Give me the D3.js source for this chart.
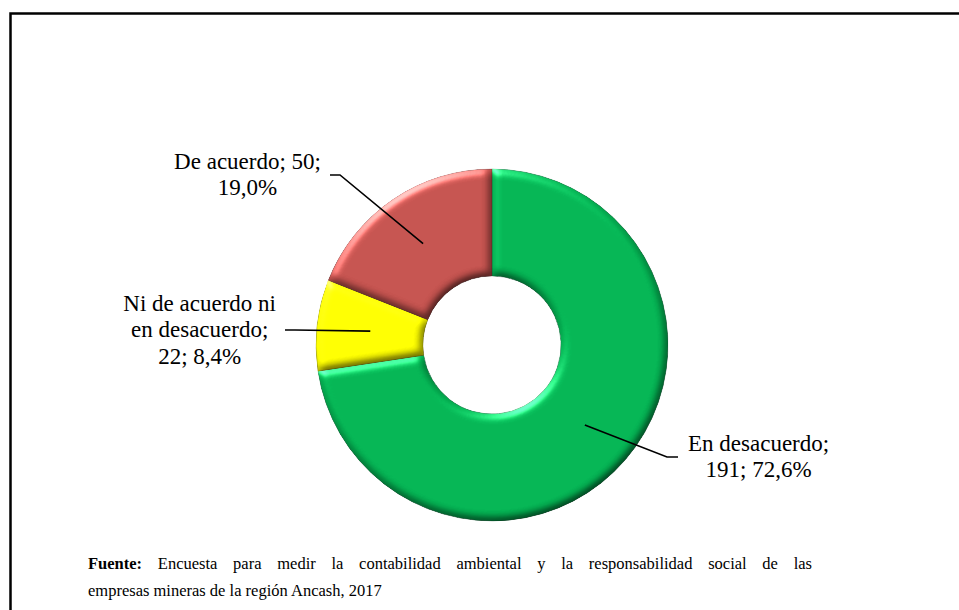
<!DOCTYPE html>
<html>
<head>
<meta charset="utf-8">
<script src="https://cdn.jsdelivr.net/npm/d3@7/dist/d3.min.js"></script>
<style>
  html, body { margin: 0; padding: 0; background: #fff; }
  svg { display: block; }
</style>
</head>
<body>
<svg id="chart" width="959" height="610" font-family="'Liberation Serif', 'Times New Roman', serif"></svg>
<script>
// ---- data ----
const categories = ["En desacuerdo", "Ni de acuerdo ni en desacuerdo", "De acuerdo"];
const values = [191, 22, 50];
const percents = ["72,6%", "8,4%", "19,0%"];
const labelLines = [
  ["En desacuerdo;", "191; 72,6%"],
  ["Ni de acuerdo ni", "en desacuerdo;", "22; 8,4%"],
  ["De acuerdo; 50;", "19,0%"]
];
const colors = ["#03b453", "#ffff00", "#c4524e"];
const edgeColors = ["#0a8a45", "#b5b500", "#8e3b38"];
const sourceBold = "Fuente:";
const sourceLines = [
  "Encuesta para medir la contabilidad ambiental y la responsabilidad social de las",
  "empresas mineras de la región Ancash, 2017"
];

// ---- layout ----
const W = 959, H = 610;
const cx = 492, cy = 345, outerR = 176, innerR = 69;
const anchors = [
  { x: 678, y: 457, side: "right" },
  { x: 285, y: 330, side: "left" },
  { x: 330, y: 175, side: "left" }
];
const fontSize = 23, lineH = 26.5;
const FONT = "'Liberation Serif', 'Times New Roman', serif";

const svg = d3.select("#chart");

// frame
svg.append("rect")
  .attr("x", 10.5).attr("y", 13.5)
  .attr("width", 1000).attr("height", 800)
  .attr("fill", "none").attr("stroke", "#000").attr("stroke-width", 2.5);

// bevel filter
const defs = svg.append("defs");
const f = defs.append("filter").attr("id", "bevel")
  .attr("color-interpolation-filters", "sRGB")
  .attr("x", "-10%").attr("y", "-10%").attr("width", "120%").attr("height", "120%");
f.append("feGaussianBlur").attr("in", "SourceAlpha").attr("stdDeviation", 4).attr("result", "blur");
const dif = f.append("feDiffuseLighting").attr("in", "blur")
  .attr("surfaceScale", 4).attr("diffuseConstant", 1)
  .attr("lighting-color", "#ffffff").attr("result", "diff");
dif.append("feDistantLight").attr("azimuth", 240).attr("elevation", 60);
f.append("feComposite").attr("in", "SourceGraphic").attr("in2", "diff")
  .attr("operator", "arithmetic").attr("k1", 1.15).attr("k2", 0).attr("k3", 0).attr("k4", 0).attr("result", "lit");
const spec = f.append("feSpecularLighting").attr("in", "blur")
  .attr("surfaceScale", 4).attr("specularConstant", 0.6).attr("specularExponent", 20)
  .attr("lighting-color", "#ffffff").attr("result", "spec");
spec.append("feDistantLight").attr("azimuth", 240).attr("elevation", 25);
f.append("feComposite").attr("in", "spec").attr("in2", "SourceAlpha").attr("operator", "in").attr("result", "specIn");
f.append("feComposite").attr("in", "lit").attr("in2", "specIn")
  .attr("operator", "arithmetic").attr("k1", 0).attr("k2", 1).attr("k3", 0.7).attr("k4", 0).attr("result", "sum");
f.append("feComposite").attr("in", "sum").attr("in2", "SourceAlpha").attr("operator", "in");

const pie = d3.pie().sort(null).startAngle(0).endAngle(2 * Math.PI);
const arcs = pie(values);
const arc = d3.arc().innerRadius(innerR).outerRadius(outerR);

const g = svg.append("g").attr("transform", `translate(${cx},${cy})`);
g.selectAll("path.slice")
  .data(arcs)
  .join("path")
  .attr("class", "slice")
  .attr("d", arc)
  .attr("fill", (d, i) => colors[i])
  .attr("stroke", (d, i) => edgeColors[i])
  .attr("stroke-width", 0.7)
  .attr("filter", "url(#bevel)");

// leader lines + labels
arcs.forEach((d, i) => {
  const c = arc.centroid(d);
  const sx = cx + c[0], sy = cy + c[1];
  const a = anchors[i];
  const elbowX = a.side === "right" ? a.x - 11 : a.x + 10;
  svg.append("path")
    .attr("d", d3.line()([[sx, sy], [elbowX, a.y], [a.x, a.y]]))
    .attr("fill", "none").attr("stroke", "#000").attr("stroke-width", 1.6);

  const t = svg.append("text").attr("font-family", FONT).attr("font-size", fontSize)
    .attr("text-anchor", "middle").attr("fill", "#000");
  const lines = labelLines[i];
  const tspans = lines.map((ln, k) =>
    t.append("tspan").attr("y", a.y + (k - (lines.length - 1) / 2) * lineH + 7).text(ln));
  const maxW = d3.max(tspans, s => s.node().getComputedTextLength());
  const centerX = a.side === "right" ? a.x + 10 + maxW / 2 : a.x - 9 - maxW / 2;
  tspans.forEach(s => s.attr("x", centerX));
});

// source note (first line justified to the text block width)
const srcX = 88, srcRight = 812, srcFont = 16.5;
const src = svg.append("text").attr("font-family", FONT).attr("font-size", srcFont)
  .attr("x", srcX).attr("y", 569).attr("fill", "#000");
src.append("tspan").attr("font-weight", "bold").text(sourceBold);
src.append("tspan").text(" " + sourceLines[0]);
const natural = src.node().getComputedTextLength();
const gaps = (sourceBold + " " + sourceLines[0]).split(" ").length - 1;
src.attr("word-spacing", (srcRight - srcX - natural) / gaps);
svg.append("text").attr("font-family", FONT).attr("font-size", srcFont)
  .attr("x", srcX).attr("y", 596).attr("fill", "#000").text(sourceLines[1]);
</script>
</body>
</html>
